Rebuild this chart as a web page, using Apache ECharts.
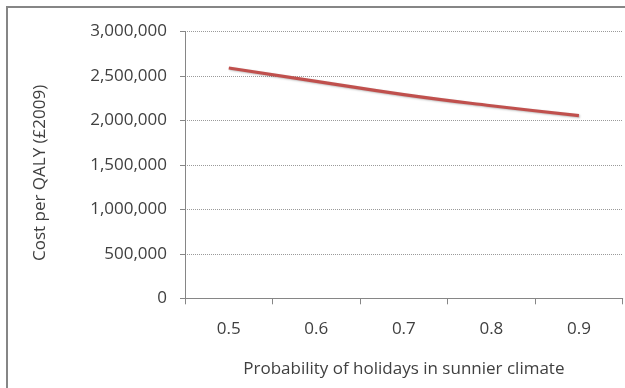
<!DOCTYPE html>
<html>
<head>
<meta charset="utf-8">
<script src="https://cdn.jsdelivr.net/npm/echarts@6/dist/echarts.min.js"></script>
<style>
  html, body { margin: 0; padding: 0; background: #fff; }
  #chart { width: 625px; height: 388px; }
</style>
</head>
<body>
<div id="chart"></div>
<script>
// Probability of taking holidays in a sunnier climate
const probabilities = ['0.5', '0.6', '0.7', '0.8', '0.9'];
// Cost per QALY (£2009) at each probability
const costPerQaly = [2590000, 2440000, 2290000, 2165000, 2055000];
// Value axis range and step
const yMin = 0;
const yMax = 3000000;
const yStep = 500000;

const FONT = '"Open Sans", "Noto Sans", sans-serif';
const TEXT = '#404040';

const chart = echarts.init(document.getElementById('chart'), null, { renderer: 'canvas' });

chart.setOption({
  animation: false,
  backgroundColor: '#fff',
  graphic: [{
    type: 'rect',
    shape: { x: 7, y: 7, width: 640, height: 400 },
    style: { fill: 'none', stroke: '#868686', lineWidth: 2 },
    silent: true
  }],
  grid: { left: 185, top: 31.5, right: 2.3, bottom: 89.7, containLabel: false },
  xAxis: {
    type: 'category',
    data: probabilities,
    boundaryGap: true,
    name: 'Probability of holidays in sunnier climate',
    nameLocation: 'middle',
    nameGap: 62,
    nameTextStyle: { color: TEXT, fontFamily: FONT, fontSize: 17 },
    axisLine: { lineStyle: { color: '#868686', width: 1 } },
    axisTick: { show: true, alignWithLabel: false, length: 6, lineStyle: { color: '#868686' } },
    axisLabel: { color: TEXT, fontFamily: FONT, fontSize: 17, margin: 22 },
    splitLine: { show: false }
  },
  yAxis: {
    type: 'value',
    min: yMin,
    max: yMax,
    interval: yStep,
    name: 'Cost per QALY (£2009)',
    nameLocation: 'middle',
    nameGap: 136,
    nameRotate: 90,
    nameTextStyle: { color: TEXT, fontFamily: FONT, fontSize: 17, padding: [0, 16, 0, 0] },
    axisLine: { show: true, lineStyle: { color: '#868686', width: 1 } },
    axisTick: { show: true, inside: false, length: 5, lineStyle: { color: '#868686' } },
    axisLabel: {
      color: TEXT, fontFamily: FONT, fontSize: 17, margin: 18,
      formatter: v => v.toLocaleString('en-US')
    },
    splitLine: { show: true, lineStyle: { color: '#9a9a9a', type: [1, 1], width: 1 } }
  },
  series: [{
    type: 'line',
    data: costPerQaly,
    smooth: true,
    symbol: 'none',
    lineStyle: {
      color: '#C0504D', width: 3.2,
      shadowColor: 'rgba(0,0,0,0.25)', shadowBlur: 2, shadowOffsetX: 1, shadowOffsetY: 1
    }
  }]
});
</script>
</body>
</html>
